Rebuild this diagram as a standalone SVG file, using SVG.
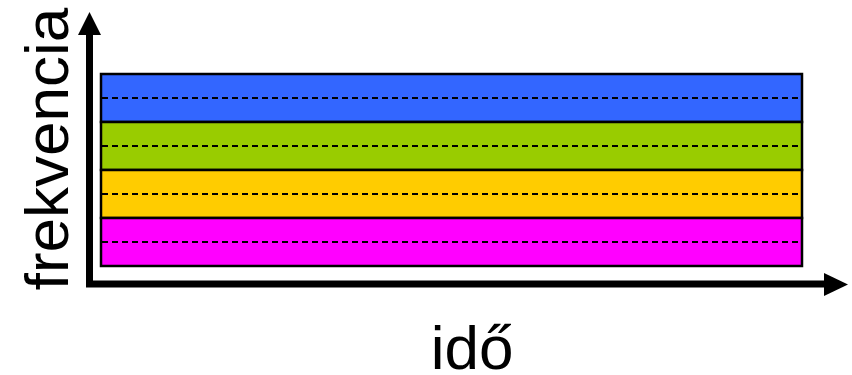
<svg xmlns="http://www.w3.org/2000/svg" width="852" height="375" viewBox="0 0 852 375">
<style>
.band{stroke:#000;stroke-width:2.5}
.dash{stroke:#000;stroke-width:1.8;stroke-dasharray:6 4;fill:none}
.axis{stroke:#000;stroke-width:7;fill:none}
.lbl{font-family:"Liberation Sans",Arial,sans-serif;font-size:62px;fill:#000}
</style>
<g id="band-blue"><rect class="band" x="101" y="74" width="701" height="48" fill="#3366FF"/><line class="dash" x1="102" y1="98" x2="801" y2="98"/></g>
<g id="band-green"><rect class="band" x="101" y="122" width="701" height="48" fill="#99CC00"/><line class="dash" x1="102" y1="146" x2="801" y2="146"/></g>
<g id="band-yellow"><rect class="band" x="101" y="170" width="701" height="48" fill="#FFCC00"/><line class="dash" x1="102" y1="194" x2="801" y2="194"/></g>
<g id="band-magenta"><rect class="band" x="101" y="218" width="701" height="48" fill="#FF00FF"/><line class="dash" x1="102" y1="242" x2="801" y2="242"/></g>
<g id="axes">
<polyline class="axis" points="89.5,34 89.5,284 826,284"/>
<polygon points="89.5,12 78,35 101,35" fill="#000"/>
<polygon points="848,284.5 824,273 824,296" fill="#000"/>
</g>
<g id="label-y"><text class="lbl" x="0" y="0" text-anchor="middle" transform="translate(68,149) rotate(-90)">frekvencia</text></g>
<g id="label-x"><text class="lbl" x="472" y="369" text-anchor="middle">idő</text></g>
</svg>
